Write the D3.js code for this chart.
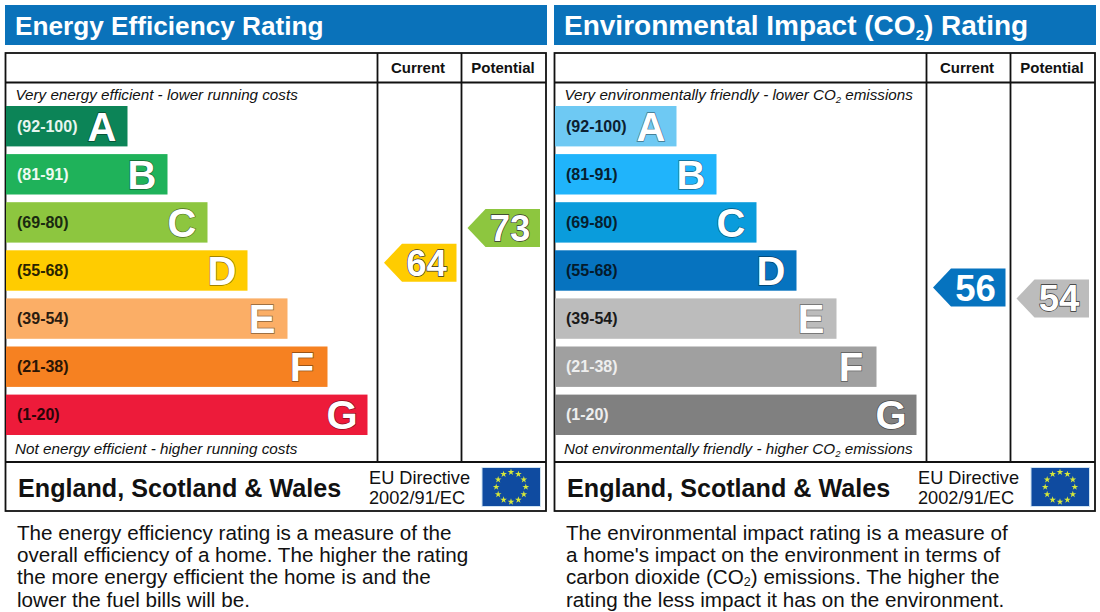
<!DOCTYPE html>
<html>
<head>
<meta charset="utf-8">
<script src="https://cdn.jsdelivr.net/npm/d3@7"></script>
<style>
  html, body { margin: 0; padding: 0; background: #fff; }
  svg { display: block; }
  text { font-family: "Liberation Sans", Arial, sans-serif; }
</style>
</head>
<body>
<div id="chart"></div>
<script>
// rating bands, same for both panels
const bandLetters = ['A', 'B', 'C', 'D', 'E', 'F', 'G'];
const bandLows = [92, 81, 69, 55, 39, 21, 1];
const bandHighs = [100, 91, 80, 68, 54, 38, 20];

const energyColors = ['#0c8457', '#1fb25a', '#8dc63f', '#ffcc00', '#fbae66', '#f68121', '#ed1b3a'];
const energyLabelColors = ['#e8f5ef', '#eefaf2', '#1a2a10', '#2a2400', '#2a1c10', '#2a1505', '#2a0508'];
const energyCurrent = 64;
const energyPotential = 73;

const co2Colors = ['#6ec9f3', '#20b4fb', '#0a9cdc', '#0673bf', '#bcbcbc', '#a0a0a0', '#808080'];
const co2LabelColors = ['#0c2030', '#08202e', '#06202e', '#041a2c', '#1a1a1a', '#eeeeee', '#eeeeee'];
const co2Current = 56;
const co2Potential = 54;

const columnNames = ['Current', 'Potential'];
const energyNotes = ['The energy efficiency rating is a measure of the',
  'overall efficiency of a home. The higher the rating',
  'the more energy efficient the home is and the',
  'lower the fuel bills will be.'];
const co2Notes = ['The environmental impact rating is a measure of',
  "a home's impact on the environment in terms of",
  [['carbon dioxide (CO'], ['2', 1], [') emissions. The higher the']],
  'rating the less impact it has on the environment.'];

const width = 1100, height = 612;
const svg = d3.select('#chart').append('svg')
  .attr('width', width)
  .attr('height', height);

// vertical band layout
const bandY = d3.scaleBand()
  .domain(bandLetters)
  .range([106, 435])
  .paddingInner(0.16);

const bandEnd = d3.scaleLinear()
  .domain([0, 6])
  .range([127.5, 367.5]);

// a rating sits inside its own band, low value at the bottom
function ratingY(value) {
  const i = bandLows.findIndex(d => value >= d);
  const top = bandY(bandLetters[i]);
  return d3.scaleLinear()
    .domain([bandLows[i], bandHighs[i]])
    .range([top + bandY.bandwidth(), top])(value);
}

function colorFor(value, colors) {
  return colors[bandLows.findIndex(d => value >= d)];
}

// text with sub script parts, parts are [string, isSub]
function addParts(sel, parts, subSize, shift) {
  parts.forEach(function(p) {
    const t = sel.append('tspan').text(p[0]);
    if (p[1]) {
      t.attr('font-size', subSize).attr('dy', shift);
    } else if (sel.selectAll('tspan').size() > 1) {
      t.attr('dy', -shift);
    }
  });
}

function drawMarker(g, value, colors, tipX, textColor) {
  const cy = ratingY(value);
  const h = 19;
  const m = g.append('g').attr('transform', 'translate(' + tipX + ',' + cy + ')');
  m.append('path')
    .attr('d', d3.line()([[0, 0], [18, -h], [72.5, -h], [72.5, h], [18, h]]) + 'Z')
    .attr('fill', colorFor(value, colors));
  m.append('text')
    .attr('x', 42.5)
    .attr('y', 13)
    .attr('text-anchor', 'middle')
    .attr('font-size', 36.5)
    .attr('font-weight', 700)
    .attr('fill', '#fff')
    .attr('stroke', textColor)
    .attr('stroke-width', 1.3)
    .attr('paint-order', 'stroke')
    .text(value);
}

function drawFlag(g) {
  g.append('rect')
    .attr('x', 482).attr('y', 467.5)
    .attr('width', 58.5).attr('height', 39)
    .attr('fill', '#0f4ba0')
    .attr('stroke', '#cfe3f2')
    .attr('stroke-width', 1);
  const angle = d3.scaleLinear().domain([0, 12]).range([0, 2 * Math.PI]);
  g.selectAll('.star')
    .data(d3.range(12))
    .enter()
    .append('path')
    .attr('class', 'star')
    .attr('d', d3.symbol().type(d3.symbolStar).size(14))
    .attr('fill', '#d6e83a')
    .attr('transform', d => 'translate(' + (511 + 14.8 * Math.sin(angle(d))) + ',' + (487 - 14.8 * Math.cos(angle(d))) + ')');
}

function drawPanel(dx, opt) {
  const g = svg.append('g').attr('transform', 'translate(' + dx + ',0)');

  // title strip
  g.append('rect')
    .attr('x', 5).attr('y', 5)
    .attr('width', 542).attr('height', 40)
    .attr('fill', '#0a72ba');
  const title = g.append('text')
    .attr('x', 15).attr('y', 35)
    .attr('font-size', opt.titleSize)
    .attr('font-weight', 700)
    .attr('fill', '#fff');
  addParts(title, opt.title, 15, 5);

  // table frame
  g.append('rect')
    .attr('x', 5.5).attr('y', 53)
    .attr('width', 540.5).attr('height', 458)
    .attr('fill', '#fff')
    .attr('stroke', '#111')
    .attr('stroke-width', 1.8);
  [82.5, 462].forEach(function(y) {
    g.append('line')
      .attr('x1', 5.5).attr('x2', 546)
      .attr('y1', y).attr('y2', y)
      .attr('stroke', '#111').attr('stroke-width', 1.8);
  });
  [377.5, 461.5].forEach(function(x) {
    g.append('line')
      .attr('x1', x).attr('x2', x)
      .attr('y1', 53).attr('y2', 462)
      .attr('stroke', '#111').attr('stroke-width', 1.8);
  });

  g.selectAll('.col')
    .data(columnNames)
    .enter()
    .append('text')
    .attr('class', 'col')
    .attr('x', (d, i) => i === 0 ? 418 : 503)
    .attr('y', 73)
    .attr('text-anchor', 'middle')
    .attr('font-size', 15)
    .attr('font-weight', 700)
    .attr('fill', '#111')
    .text(d => d);

  const top = g.append('text')
    .attr('x', 15.5).attr('y', 100)
    .attr('font-size', 15.2)
    .attr('font-style', 'italic')
    .attr('fill', '#111');
  addParts(top, opt.topNote, 9.5, 3);
  const bottom = g.append('text')
    .attr('x', 15).attr('y', 454)
    .attr('font-size', 15.25)
    .attr('font-style', 'italic')
    .attr('fill', '#111');
  addParts(bottom, opt.bottomNote, 9.5, 3);

  // bars
  const bars = g.selectAll('.band')
    .data(bandLetters)
    .enter()
    .append('g')
    .attr('class', 'band');
  bars.append('rect')
    .attr('x', 6)
    .attr('y', d => bandY(d))
    .attr('width', (d, i) => bandEnd(i) - 6)
    .attr('height', bandY.bandwidth())
    .attr('fill', (d, i) => opt.colors[i]);
  bars.append('text')
    .attr('x', 17)
    .attr('y', d => bandY(d) + bandY.bandwidth() / 2 + 5.5)
    .attr('font-size', 16)
    .attr('font-weight', 700)
    .attr('fill', (d, i) => opt.labelColors[i])
    .text((d, i) => '(' + bandLows[i] + '-' + bandHighs[i] + ')');
  bars.append('text')
    .attr('x', (d, i) => bandEnd(i) - 25.5)
    .attr('y', d => bandY(d) + bandY.bandwidth() / 2 + 14.5)
    .attr('text-anchor', 'middle')
    .attr('font-size', 40)
    .attr('font-weight', 700)
    .attr('fill', '#fff')
    .attr('stroke', (d, i) => d3.color(opt.colors[i]).darker(1.6))
    .attr('stroke-width', 1.3)
    .attr('paint-order', 'stroke')
    .text(d => d);

  drawMarker(g, opt.current, opt.colors, 384, opt.currentStroke);
  drawMarker(g, opt.potential, opt.colors, 467.5, '#333');

  // footer
  g.append('text')
    .attr('x', 18).attr('y', 497)
    .attr('font-size', 25.15)
    .attr('font-weight', 700)
    .attr('fill', '#111')
    .text('England, Scotland & Wales');
  g.append('text')
    .attr('x', 369).attr('y', 484)
    .attr('font-size', 18.2)
    .attr('fill', '#111')
    .text('EU Directive');
  g.append('text')
    .attr('x', 369).attr('y', 504)
    .attr('font-size', 18.2)
    .attr('fill', '#111')
    .text('2002/91/EC');
  drawFlag(g);

  // text under the table
  opt.notes.forEach(function(line, i) {
    const t = g.append('text')
      .attr('x', 17).attr('y', 540 + i * 22.2)
      .attr('font-size', 20.65)
      .attr('fill', '#111');
    if (typeof line === 'string') t.text(line);
    else addParts(t, line, 12.5, 2);
  });
}

drawPanel(0, {
  title: [['Energy Efficiency Rating']],
  titleSize: 26.2,
  topNote: [['Very energy efficient - lower running costs']],
  bottomNote: [['Not energy efficient - higher running costs']],
  colors: energyColors,
  labelColors: energyLabelColors,
  current: energyCurrent,
  potential: energyPotential,
  currentStroke: '#333',
  notes: energyNotes
});

drawPanel(549, {
  title: [['Environmental Impact (CO'], ['2', 1], [') Rating']],
  titleSize: 28,
  topNote: [['Very environmentally friendly - lower CO'], ['2', 1], [' emissions']],
  bottomNote: [['Not environmentally friendly - higher CO'], ['2', 1], [' emissions']],
  colors: co2Colors,
  labelColors: co2LabelColors,
  current: co2Current,
  potential: co2Potential,
  currentStroke: 'none',
  notes: co2Notes
});
</script>
</body>
</html>
